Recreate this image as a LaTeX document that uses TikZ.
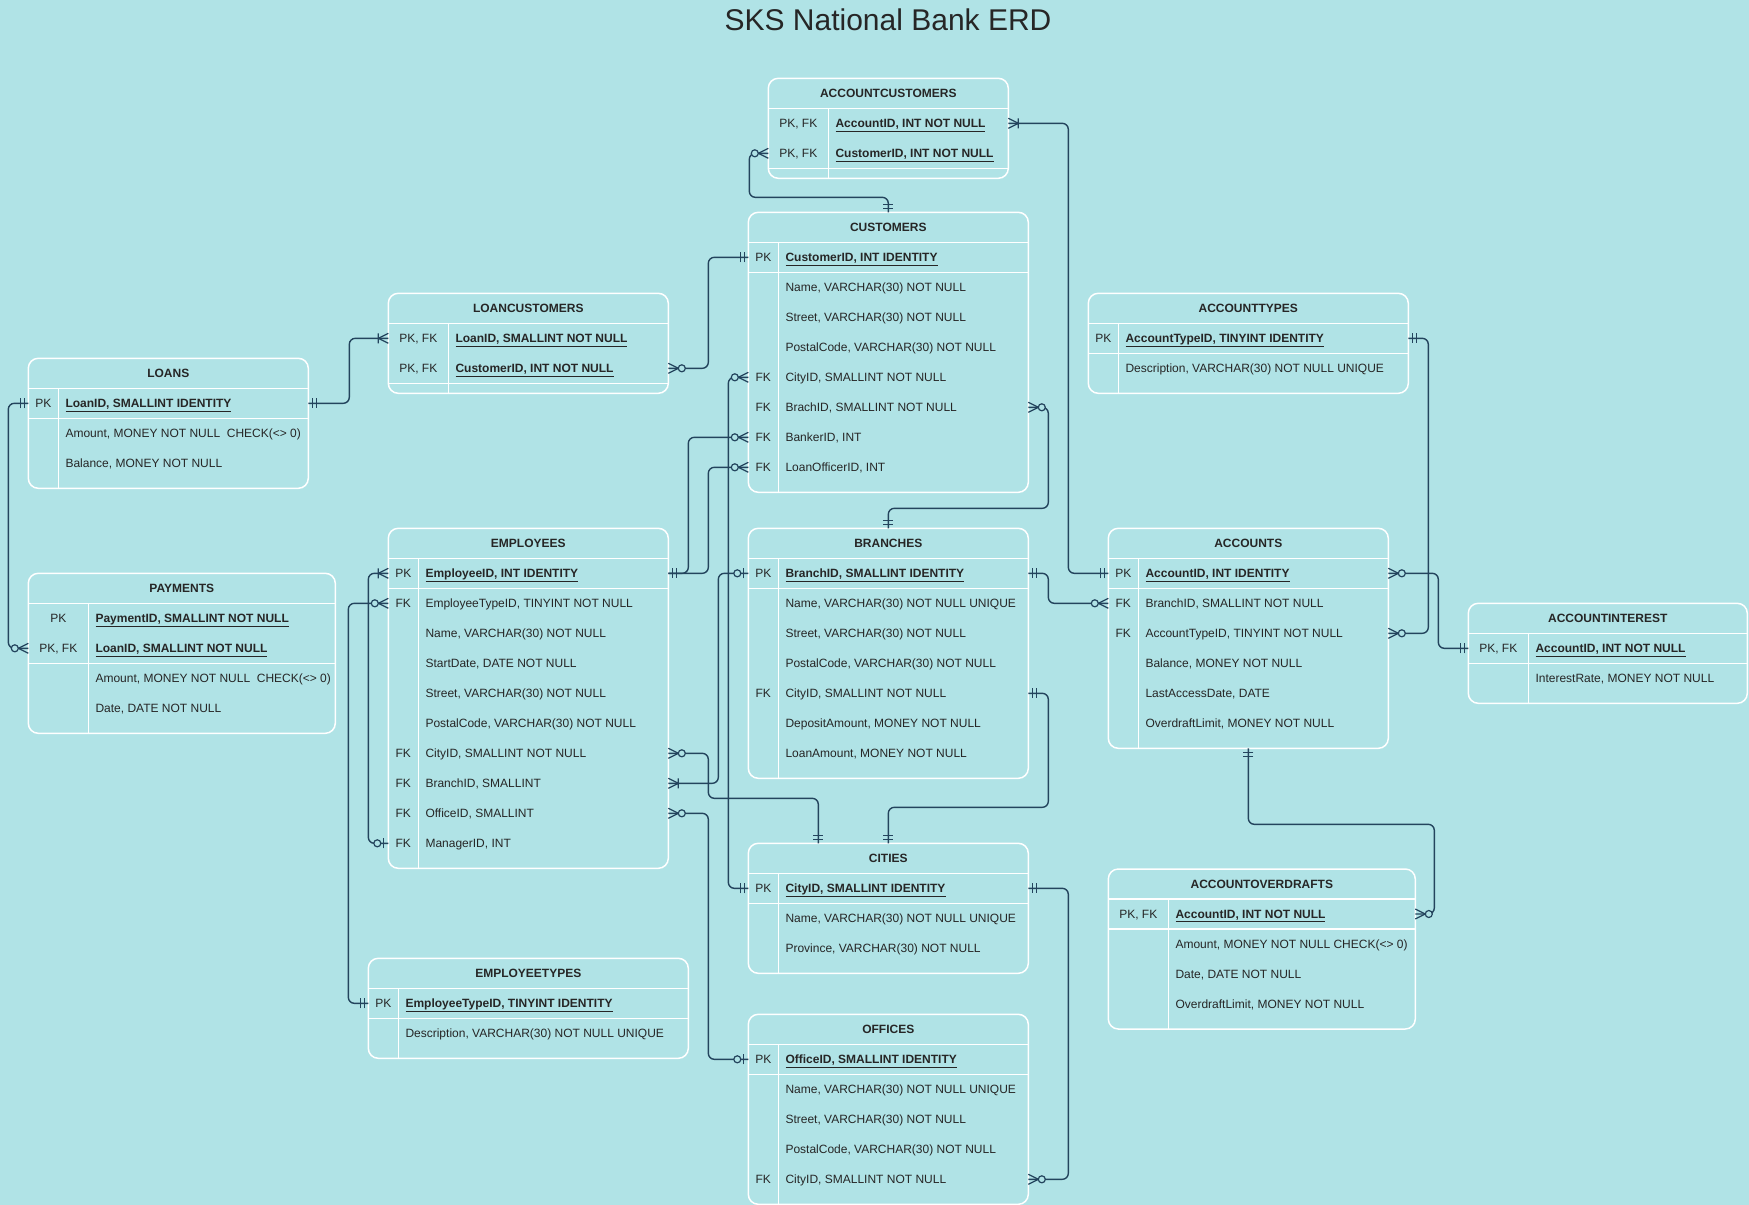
\documentclass[tikz,border=0pt]{standalone}
\usepackage{fontspec}
\setmainfont{Liberation Sans}
\definecolor{bgc}{HTML}{B0E3E6}
\definecolor{lc}{HTML}{23445D}
\definecolor{tc}{HTML}{262626}
\newcommand\erfont{\fontsize{12}{14}\selectfont}
\tikzset{
  tabbox/.style={rectangle, draw=white, line width=1.5pt, rounded corners=10pt, inner sep=0pt, outer sep=0pt},
  tabln/.style={draw=white, line width=1.5pt},
  hdr/.style={font=\erfont\bfseries, text=tc, inner sep=0pt, anchor=base},
  keyt/.style={font=\erfont, text=tc, inner sep=0pt, anchor=base},
  rowt/.style={font=\erfont, text=tc, inner sep=0pt, anchor=base west},
  conn/.style={draw=lc, line width=1.4pt, rounded corners=6pt},
  mk/.style={draw=lc, line width=1.2pt},
  mone/.pic={\draw[mk] (4,-5)--(4,5) (8,-5)--(8,5);},
  zmany/.pic={\draw[mk] (0,-5)--(10,0)--(0,5); \draw[mk,fill=bgc] (13.5,0) circle (3.5);},
  omany/.pic={\draw[mk] (0,-5)--(10,0)--(0,5) (10,-5)--(10,5);},
  zone/.pic={\draw[mk] (5,-5)--(5,5); \draw[mk,fill=bgc] (11,0) circle (3.5);},
}
% #1 name #2 x #3 y #4 width #5 key width #6 PK rows #7 rows #8 title #9 row list
\newcommand\erdtable[9]{%
  \pgfmathsetmacro\erH{40+30*#7}%
  \node[tabbox, minimum width=#4pt, minimum height=\erH pt, anchor=north west] (#1) at (#2,#3) {};
  \draw[tabln] (#2,#3+30) -- ++(#4,0);
  \draw[tabln] (#2,#3+30+30*#6) -- ++(#4,0);
  \draw[tabln] (#2+#5,#3+30) -- (#2+#5,#3+\erH);
  \node[hdr] (#1-h) at (#2+#4/2,#3+19.3) {#8};
  \foreach \erk/\ert [count=\eri from 0] in {#9}{%
    \pgfmathsetmacro\erY{#3+45+30*\eri}%
    \coordinate (#1-\eri-w) at (#2,\erY);
    \coordinate (#1-\eri-e) at (#2+#4,\erY);
    \node[keyt] (#1-\eri-k) at (#2+#5/2,\erY+4.3) {\erk};
    \ifnum\eri<#6\relax
      \node[rowt, font=\erfont\bfseries] (#1-\eri-t) at (#2+#5+7,\erY+4.3) {\underline{\ert}};
    \else
      \node[rowt] (#1-\eri-t) at (#2+#5+7,\erY+4.3) {\ert};
    \fi
  }%
}
\begin{document}
\begin{tikzpicture}[x=1pt,y=-1pt]
\useasboundingbox (0,0) rectangle (1749,1205);
\fill[bgc] (0,0) rectangle (1749,1205);
\node[font=\fontsize{30}{36}\selectfont, text=tc, anchor=base, inner sep=0pt] (title) at (888,30.5) {SKS National Bank ERD};

\erdtable{AC}{768.3}{78.3}{240}{60}{2}{2}{ACCOUNTCUSTOMERS}{%
  {PK, FK}/{AccountID, INT NOT NULL},
  {PK, FK}/{CustomerID, INT NOT NULL}}
\erdtable{CUST}{748.3}{212.3}{280}{30}{1}{8}{CUSTOMERS}{%
  PK/{CustomerID, INT IDENTITY},
  {}/{Name, VARCHAR(30) NOT NULL},
  {}/{Street, VARCHAR(30) NOT NULL},
  {}/{PostalCode, VARCHAR(30) NOT NULL},
  FK/{CityID, SMALLINT NOT NULL},
  FK/{BrachID, SMALLINT NOT NULL},
  FK/{BankerID, INT},
  FK/{LoanOfficerID, INT}}
\erdtable{LC}{388.3}{293.3}{280}{60}{2}{2}{LOANCUSTOMERS}{%
  {PK, FK}/{LoanID, SMALLINT NOT NULL},
  {PK, FK}/{CustomerID, INT NOT NULL}}
\erdtable{LOANS}{28.3}{358.3}{280}{30}{1}{3}{LOANS}{%
  PK/{LoanID, SMALLINT IDENTITY},
  {}/{Amount, MONEY NOT NULL\ \ CHECK(<> 0)},
  {}/{Balance, MONEY NOT NULL}}
\erdtable{PAY}{28.3}{573.3}{307}{60}{2}{4}{PAYMENTS}{%
  PK/{PaymentID, SMALLINT NOT NULL},
  {PK, FK}/{LoanID, SMALLINT NOT NULL},
  {}/{Amount, MONEY NOT NULL\ \ CHECK(<> 0)},
  {}/{Date, DATE NOT NULL}}
\erdtable{AT}{1088.3}{293.3}{320}{30}{1}{2}{ACCOUNTTYPES}{%
  PK/{AccountTypeID, TINYINT IDENTITY},
  {}/{Description, VARCHAR(30) NOT NULL UNIQUE}}
\erdtable{ACC}{1108.3}{528.3}{280}{30}{1}{6}{ACCOUNTS}{%
  PK/{AccountID, INT IDENTITY},
  FK/{BranchID, SMALLINT NOT NULL},
  FK/{AccountTypeID, TINYINT NOT NULL},
  {}/{Balance, MONEY NOT NULL},
  {}/{LastAccessDate, DATE},
  {}/{OverdraftLimit, MONEY NOT NULL}}
\erdtable{AI}{1468.3}{603.3}{279}{60}{1}{2}{ACCOUNTINTEREST}{%
  {PK, FK}/{AccountID, INT NOT NULL},
  {}/{InterestRate, MONEY NOT NULL}}
\erdtable{AO}{1108.3}{869}{307}{60}{1}{4}{ACCOUNTOVERDRAFTS}{%
  {PK, FK}/{AccountID, INT NOT NULL},
  {}/{Amount, MONEY NOT NULL CHECK(<> 0)},
  {}/{Date, DATE NOT NULL},
  {}/{OverdraftLimit, MONEY NOT NULL}}
\erdtable{EMP}{388.3}{528.3}{280}{30}{1}{10}{EMPLOYEES}{%
  PK/{EmployeeID, INT IDENTITY},
  FK/{EmployeeTypeID, TINYINT NOT NULL},
  {}/{Name, VARCHAR(30) NOT NULL},
  {}/{StartDate, DATE NOT NULL},
  {}/{Street, VARCHAR(30) NOT NULL},
  {}/{PostalCode, VARCHAR(30) NOT NULL},
  FK/{CityID, SMALLINT NOT NULL},
  FK/{BranchID, SMALLINT},
  FK/{OfficeID, SMALLINT},
  FK/{ManagerID, INT}}
\erdtable{BR}{748.3}{528.3}{280}{30}{1}{7}{BRANCHES}{%
  PK/{BranchID, SMALLINT IDENTITY},
  {}/{Name, VARCHAR(30) NOT NULL UNIQUE},
  {}/{Street, VARCHAR(30) NOT NULL},
  {}/{PostalCode, VARCHAR(30) NOT NULL},
  FK/{CityID, SMALLINT NOT NULL},
  {}/{DepositAmount, MONEY NOT NULL},
  {}/{LoanAmount, MONEY NOT NULL}}
\erdtable{CIT}{748.3}{843.3}{280}{30}{1}{3}{CITIES}{%
  PK/{CityID, SMALLINT IDENTITY},
  {}/{Name, VARCHAR(30) NOT NULL UNIQUE},
  {}/{Province, VARCHAR(30) NOT NULL}}
\erdtable{OFF}{748.3}{1014.3}{280}{30}{1}{5}{OFFICES}{%
  PK/{OfficeID, SMALLINT IDENTITY},
  {}/{Name, VARCHAR(30) NOT NULL UNIQUE},
  {}/{Street, VARCHAR(30) NOT NULL},
  {}/{PostalCode, VARCHAR(30) NOT NULL},
  FK/{CityID, SMALLINT NOT NULL}}
\erdtable{ET}{368.3}{958.3}{320}{30}{1}{2}{EMPLOYEETYPES}{%
  PK/{EmployeeTypeID, TINYINT IDENTITY},
  {}/{Description, VARCHAR(30) NOT NULL UNIQUE}}

% connectors
\draw[conn] (AC-0-e) -- ++(60,0) |- (ACC-0-w);
\draw[conn] (AC-1-w) -- ++(-19,0) -- ++(0,44) -| (CUST.north);
\draw[conn] (LC-0-w) -- ++(-39,0) |- (LOANS-0-e);
\draw[conn] (LC-1-e) -- ++(40,0) |- (CUST-0-w);
\draw[conn] (LOANS-0-w) -- ++(-20,0) |- (PAY-1-w);
\draw[conn] (AT-0-e) -- ++(20,0) |- (ACC-2-e);
\draw[conn] (ACC-0-e) -- ++(50,0) |- (AI-0-w);
\draw[conn] (ACC.south) -- ++(0,76) -- ++(186,0) |- (AO-0-e);
\draw[conn] (BR-0-e) -- ++(20,0) |- (ACC-1-w);
\draw[conn] (CUST-5-e) -- ++(20,0) -- ++(0,101) -| (BR.north);
\draw[conn] (BR-4-e) -- ++(20,0) -- ++(0,114) -| (CIT.north);
\draw[conn] (EMP-0-e) -- ++(20,0) |- (CUST-6-w);
\draw[conn] (EMP-0-e) -- ++(40,0) |- (CUST-7-w);
\draw[conn] (CIT-0-w) -- ++(-20,0) |- (CUST-4-w);
\draw[conn] (EMP-7-e) -- ++(50,0) |- (BR-0-w);
\draw[conn] (EMP-6-e) -- ++(40,0) -- ++(0,45) -| ([xshift=-70pt]CIT.north);
\draw[conn] (EMP-8-e) -- ++(40,0) |- (OFF-0-w);
\draw[conn] (OFF-4-e) -- ++(40,0) |- (CIT-0-e);
\draw[conn] (EMP-0-w) -- ++(-20,0) |- (EMP-9-w);
\draw[conn] (EMP-1-w) -- ++(-40,0) |- (ET-0-w);

% markers
\pic at (AC-0-e) {omany};
\pic[rotate=180] at (ACC-0-w) {mone};
\pic[rotate=180] at (AC-1-w) {zmany};
\pic[rotate=90] at (CUST.north) {mone};
\pic[rotate=180] at (LC-0-w) {omany};
\pic at (LOANS-0-e) {mone};
\pic at (LC-1-e) {zmany};
\pic[rotate=180] at (CUST-0-w) {mone};
\pic[rotate=180] at (LOANS-0-w) {mone};
\pic[rotate=180] at (PAY-1-w) {zmany};
\pic at (AT-0-e) {mone};
\pic at (ACC-2-e) {zmany};
\pic at (ACC-0-e) {zmany};
\pic[rotate=180] at (AI-0-w) {mone};
\pic[rotate=-90] at (ACC.south) {mone};
\pic at (AO-0-e) {zmany};
\pic at (BR-0-e) {mone};
\pic[rotate=180] at (ACC-1-w) {zmany};
\pic at (CUST-5-e) {zmany};
\pic[rotate=90] at (BR.north) {mone};
\pic at (BR-4-e) {mone};
\pic[rotate=90] at (CIT.north) {mone};
\pic at (EMP-0-e) {mone};
\pic[rotate=180] at (CUST-6-w) {zmany};
\pic[rotate=180] at (CUST-7-w) {zmany};
\pic[rotate=180] at (CIT-0-w) {mone};
\pic[rotate=180] at (CUST-4-w) {zmany};
\pic at (EMP-7-e) {omany};
\pic[rotate=180] at (BR-0-w) {zone};
\pic at (EMP-6-e) {zmany};
\pic[rotate=90] at ([xshift=-70pt]CIT.north) {mone};
\pic at (EMP-8-e) {zmany};
\pic[rotate=180] at (OFF-0-w) {zone};
\pic at (OFF-4-e) {zmany};
\pic at (CIT-0-e) {mone};
\pic[rotate=180] at (EMP-0-w) {omany};
\pic[rotate=180] at (EMP-9-w) {zone};
\pic[rotate=180] at (EMP-1-w) {zmany};
\pic[rotate=180] at (ET-0-w) {mone};
\end{tikzpicture}
\end{document}
